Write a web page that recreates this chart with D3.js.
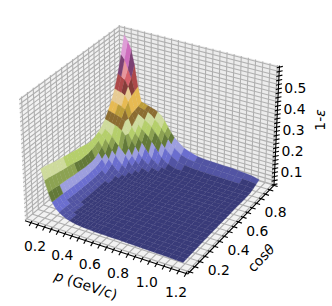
<!DOCTYPE html>
<html><head><meta charset="utf-8">
<script src="https://cdn.jsdelivr.net/npm/d3@7/dist/d3.min.js"></script>
<style>html,body{margin:0;padding:0;background:#fff}svg{display:block}text{font-family:"DejaVu Sans";fill:#000}</style>
</head><body><svg id="c" width="332" height="306"></svg>
<script>
const pValues=[.2,.225,.25,.275,.3,.325,.35,.375,.4,.425,.45,.475,.5,.525,.55,.575,.6,.65,.7,.75,.8,.85,.9,.95,1,1.05,1.1,1.15,1.2];
const cosValues=[.13,.1633,.1967,.23,.2633,.2967,.33,.3633,.3967,.43,.4633,.4967,.53,.5633,.5967,.63,.6633,.6967,.73,.7633,.7967,.83,.8633,.8967,.93];
const zRows=[
[.28,.232,.18,.14,.115,.10,.09,.082,.076,.072,.069,.067,.065,.064,.063,.062,.061,.061,.060,.060,.059,.058,.057,.056,.056,.055,.054,.053,.052],
[.278,.23,.178,.138,.114,.10,.089,.081,.075,.071,.069,.067,.065,.064,.063,.062,.061,.061,.060,.060,.059,.058,.057,.057,.056,.055,.055,.054,.053],
[.272,.225,.175,.137,.113,.098,.087,.079,.074,.07,.068,.066,.065,.064,.063,.062,.062,.061,.060,.060,.059,.058,.058,.057,.056,.056,.055,.054,.054],
[.266,.22,.172,.136,.111,.096,.085,.077,.072,.069,.067,.066,.064,.063,.063,.062,.062,.061,.060,.060,.059,.059,.058,.057,.057,.056,.055,.055,.054],
[.26,.216,.17,.134,.108,.092,.081,.074,.07,.067,.066,.065,.064,.063,.063,.062,.062,.061,.060,.060,.060,.059,.058,.058,.057,.056,.056,.055,.055],
[.256,.212,.168,.132,.106,.09,.079,.072,.068,.065,.064,.064,.063,.063,.062,.062,.062,.061,.061,.060,.059,.059,.058,.058,.057,.056,.056,.056,.055],
[.252,.208,.165,.13,.105,.089,.078,.071,.066,.064,.063,.063,.063,.062,.062,.062,.061,.061,.061,.060,.060,.059,.058,.058,.057,.057,.056,.056,.056],
[.247,.205,.162,.128,.105,.088,.077,.07,.066,.063,.062,.062,.062,.062,.061,.061,.061,.061,.061,.060,.060,.059,.059,.058,.058,.057,.057,.056,.056],
[.243,.20,.16,.128,.104,.088,.077,.07,.065,.063,.061,.061,.061,.061,.061,.061,.061,.060,.060,.060,.060,.059,.059,.059,.058,.058,.057,.057,.057],
[.238,.195,.158,.127,.104,.088,.077,.07,.066,.063,.061,.061,.06,.06,.06,.06,.06,.06,.06,.06,.06,.06,.059,.059,.058,.058,.058,.058,.057],
[.234,.19,.155,.127,.104,.088,.077,.07,.066,.063,.061,.06,.06,.06,.06,.06,.06,.06,.06,.06,.06,.06,.06,.059,.059,.059,.058,.058,.057],
[.23,.19,.155,.128,.105,.089,.078,.071,.066,.063,.061,.06,.06,.06,.06,.06,.06,.06,.06,.06,.06,.06,.06,.06,.059,.059,.058,.058,.058],
[.225,.19,.155,.13,.106,.09,.079,.072,.067,.064,.062,.06,.06,.06,.06,.06,.06,.06,.06,.06,.06,.06,.06,.06,.059,.059,.059,.058,.058],
[.22,.195,.16,.135,.11,.093,.082,.074,.069,.065,.062,.061,.06,.06,.06,.06,.06,.06,.06,.06,.06,.06,.06,.06,.06,.059,.059,.059,.058],
[.22,.20,.17,.145,.12,.103,.09,.08,.073,.069,.065,.062,.06,.06,.06,.06,.06,.06,.06,.06,.06,.06,.06,.06,.06,.059,.059,.059,.058],
[.225,.21,.185,.158,.135,.115,.098,.086,.077,.072,.067,.063,.061,.06,.06,.06,.06,.06,.06,.06,.06,.06,.06,.06,.06,.06,.059,.059,.059],
[.235,.225,.21,.19,.165,.145,.125,.108,.094,.082,.073,.067,.063,.061,.06,.06,.06,.06,.059,.059,.059,.059,.059,.059,.059,.059,.059,.059,.059],
[.25,.24,.23,.215,.195,.18,.16,.14,.118,.095,.081,.072,.067,.064,.062,.061,.06,.06,.06,.059,.059,.059,.059,.059,.059,.059,.059,.059,.059],
[.27,.265,.26,.255,.25,.24,.22,.16,.13,.11,.095,.084,.076,.07,.067,.065,.063,.061,.06,.06,.06,.06,.06,.06,.06,.06,.06,.059,.059],
[.30,.295,.29,.285,.28,.27,.215,.185,.16,.135,.115,.10,.089,.08,.074,.07,.067,.063,.062,.061,.061,.06,.06,.06,.06,.06,.059,.059,.058],
[.335,.33,.325,.32,.31,.27,.235,.21,.19,.17,.15,.127,.108,.094,.084,.076,.072,.066,.064,.063,.063,.063,.062,.062,.061,.061,.06,.06,.059],
[.38,.375,.37,.36,.335,.28,.25,.235,.22,.205,.19,.17,.15,.128,.107,.093,.084,.072,.07,.068,.067,.066,.066,.065,.065,.064,.063,.062,.061],
[.44,.43,.42,.39,.35,.285,.27,.26,.25,.24,.225,.205,.185,.16,.14,.125,.11,.09,.083,.079,.077,.076,.075,.074,.073,.072,.071,.07,.067],
[.52,.50,.46,.42,.36,.29,.285,.28,.275,.265,.25,.235,.215,.195,.17,.15,.135,.11,.10,.095,.092,.09,.088,.086,.085,.083,.081,.079,.075],
[.60,.575,.54,.47,.37,.30,.295,.29,.285,.28,.272,.26,.24,.215,.19,.17,.155,.13,.118,.108,.105,.103,.102,.10,.10,.097,.094,.09,.082]
];
const tab20b=["#393b79","#5254a3","#6b6ecf","#9c9ede","#637939","#8ca252","#b5cf6b","#cedb9c","#8c6d31","#bd9e39","#e7ba52","#e7cb94","#843c39","#ad494a","#d6616b","#e7969c","#7b4173","#a55194","#ce6dbd","#de9ed6"];
const pTicks=d3.range(0,23).map(i=>+(0.15+i*0.05).toFixed(2));
const cosTicks=d3.range(0,19).map(i=>+(0.10+i*0.05).toFixed(2));
const zTicks=d3.range(0,29).map(i=>+(0.04+i*0.02).toFixed(2));
const pLabels=[0.2,0.4,0.6,0.8,1.0,1.2];
const cosLabels=[0.2,0.4,0.6,0.8];
const zLabels=[0.1,0.2,0.3,0.4,0.5];
const pLim=[.11,1.265],cosLim=[.08,1.0],zLim=[.037,.607];

const S=1.8294640721620434*25/24/Math.sqrt(41),ax=4*S,ay=4*S,az=3*S;
const sp=d3.scaleLinear().domain(pLim).range([0,ax]),sc=d3.scaleLinear().domain(cosLim).range([0,ay]),sz=d3.scaleLinear().domain(zLim).range([0,az]);
const el=30*Math.PI/180,azm=-60*Math.PI/180,dist=10;
const R=[ax/2,ay/2,az/2];
const w=[Math.cos(el)*Math.cos(azm),Math.cos(el)*Math.sin(azm),Math.sin(el)];
const eye=R.map((r,i)=>r+dist*w[i]);
const cross=(a,b)=>[a[1]*b[2]-a[2]*b[1],a[2]*b[0]-a[0]*b[2],a[0]*b[1]-a[1]*b[0]];
const dot=(a,b)=>a[0]*b[0]+a[1]*b[1]+a[2]*b[2];
let u=cross([0,0,1],w);const un=Math.hypot(...u);u=u.map(d=>d/un);const v=cross(w,u);
function view(p,c,z){const P=[sp(p)-eye[0],sc(c)-eye[1],sz(z)-eye[2]];const Z=dot(w,P);return [dot(u,P)/-Z,dot(v,P)/-Z,Z];}
const [p0,p1]=pLim,[c0,c1]=cosLim,[z0,z1]=zLim;
const px=d3.scaleLinear().domain([view(p0,c0,z0)[0],view(p1,c1,z0)[0]]).range([25,274]);
const py=d3.scaleLinear().domain([view(p1,c0,z0)[1],view(p0,c1,z1)[1]]).range([274,25]);
const proj=(p,c,z)=>{const q=view(p,c,z);return [px(q[0]),py(q[1]),q[2]];};
const svg=d3.select("#c");
const line=pts=>"M"+pts.map(d=>d[0].toFixed(2)+","+d[1].toFixed(2)).join("L");
function pane(pts,fill){svg.append("path").attr("d",line(pts)+"Z").attr("fill",fill);}
pane([proj(p0,c0,z0),proj(p1,c0,z0),proj(p1,c1,z0),proj(p0,c1,z0)],"#f2f2f2");
pane([proj(p0,c0,z0),proj(p0,c1,z0),proj(p0,c1,z1),proj(p0,c0,z1)],"#f2f2f2");
pane([proj(p0,c1,z0),proj(p1,c1,z0),proj(p1,c1,z1),proj(p0,c1,z1)],"#ececec");
const grid=svg.append("g").attr("fill","none").attr("stroke","#b0b0b0").attr("stroke-width",1.1);
const gl=pts=>grid.append("path").attr("d",line(pts));
pTicks.forEach(t=>{gl([proj(t,c0,z0),proj(t,c1,z0),proj(t,c1,z1)]);});
cosTicks.forEach(t=>{gl([proj(p1,t,z0),proj(p0,t,z0),proj(p0,t,z1)]);});
zTicks.forEach(t=>{gl([proj(p0,c0,t),proj(p0,c1,t),proj(p1,c1,t)]);});
const ag=svg.append("g").attr("fill","none").attr("stroke","#000").attr("stroke-width",1.1);
const al=pts=>ag.append("path").attr("d",line(pts));
al([proj(p0,c0,z0),proj(p1,c0,z0)]);al([proj(p1,c0,z0),proj(p1,c1,z0)]);al([proj(p1,c1,z0),proj(p1,c1,z1)]);
pTicks.forEach(t=>{const a=proj(t,c0,z0);al([[a[0]+1.6,a[1]-1.6],[a[0]-1.2,a[1]+3.4]]);});
cosTicks.forEach(t=>{const a=proj(p1,t,z0);al([[a[0]-2,a[1]-.6],[a[0]+3.6,a[1]+1.2]]);});
zTicks.forEach(t=>{const a=proj(p1,c1,t);al([[a[0]-2.6,a[1]+.6],[a[0]+3.4,a[1]-.8]]);});
// surface
const vmin=.05,vmax=.57;
const color=d3.scaleQuantize().domain([vmin,vmax]).range(tab20b);
const faces=[];
for(let j=0;j<cosValues.length-1;j++)for(let i=0;i<pValues.length-1;i++){
  const cs=[[i,j],[i+1,j],[i+1,j+1],[i,j+1]].map(([a,b])=>[pValues[a],cosValues[b],zRows[b][a]]);
  const q=cs.map(d=>proj(d[0],d[1],d[2]));
  faces.push({q,z:d3.mean(cs,d=>d[2]),d:d3.mean(q,d=>d[2])});
}
faces.sort((a,b)=>a.d-b.d);
svg.append("g").selectAll("path").data(faces).join("path").attr("d",f=>line(f.q)+"Z").attr("fill",f=>color(f.z)).attr("stroke",f=>color(f.z)).attr("stroke-width",.3);
// labels
const tx=(x,y,s)=>svg.append("text").attr("x",x).attr("y",y).attr("text-anchor","middle").attr("dominant-baseline","central").attr("font-size",13.9).text(s);
pLabels.forEach(t=>{const a=proj(t,c0,z0);tx(a[0]-2,a[1]+21,t.toFixed(1));});
cosLabels.forEach(t=>{const a=proj(p1,t,z0);tx(a[0]+19,a[1]+9,t.toFixed(1));});
zLabels.forEach(t=>{const a=proj(p1,c1,t);tx(a[0]+17,a[1]-1,t.toFixed(1));});
const rot=(x,y,ang)=>svg.append("text").attr("transform",`translate(${x},${y}) rotate(${ang})`).attr("text-anchor","middle").attr("dominant-baseline","central").attr("font-size",13.9);
const a1=rot(86,285,18);a1.append("tspan").attr("font-style","italic").text("p");a1.append("tspan").text(" (GeV/c)");
const a2=rot(261,258,-46);a2.append("tspan").text("cos");a2.append("tspan").attr("font-style","italic").text("θ");
const a3=rot(320,120,-90);a3.append("tspan").text("1-");a3.append("tspan").attr("font-style","italic").text("ε");
</script></body></html>
